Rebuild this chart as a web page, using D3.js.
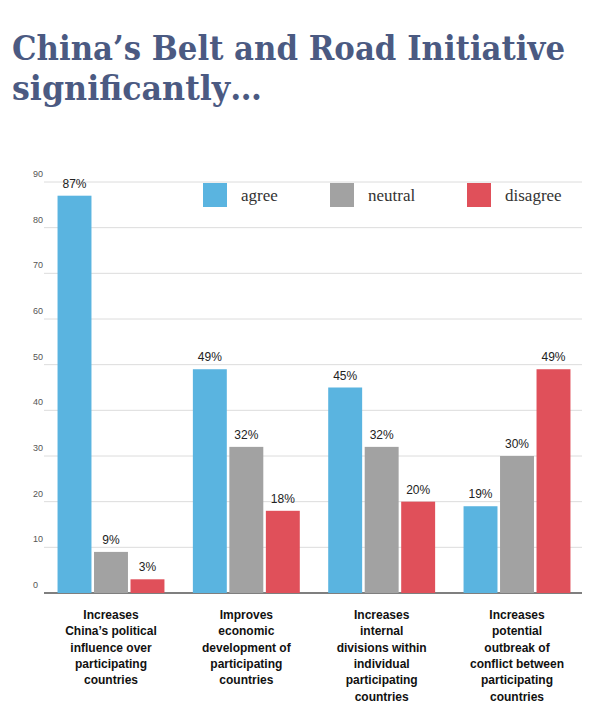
<!DOCTYPE html><html><head><meta charset="utf-8">
<script src="https://cdn.jsdelivr.net/npm/d3@7"></script>
<style>body{margin:0;background:#fff}</style></head><body>
<svg id="c" width="596" height="719"></svg>
<script>
const categories=[["Increases","China’s political","influence over","participating","countries"],["Improves","economic","development of","participating","countries"],["Increases","internal","divisions within","individual","participating","countries"],["Increases","potential","outbreak of","conflict between","participating","countries"]];
const series=["agree","neutral","disagree"];
const agree=[87,49,45,19], neutral=[9,32,32,30], disagree=[3,18,20,49];
const ticks=[0,10,20,30,40,50,60,70,80,90];
const colors={agree:"#5ab4e0",neutral:"#a2a2a2",disagree:"#e0505a"};
const vals={agree,neutral,disagree};
const svg=d3.select("#c");
svg.append("text").attr("x",12).attr("y",60).attr("font-family","DejaVu Serif").attr("font-weight","bold").attr("font-size",33).attr("fill","#4b5a82").attr("textLength",553).attr("lengthAdjust","spacingAndGlyphs").text("China’s Belt and Road Initiative");
svg.append("text").attr("x",12).attr("y",100).attr("font-family","DejaVu Serif").attr("font-weight","bold").attr("font-size",33).attr("fill","#4b5a82").attr("textLength",250).attr("lengthAdjust","spacingAndGlyphs").text("significantly…");
const y=d3.scaleLinear().domain([0,90]).range([593,182]);
const x0=d3.scaleBand().domain(d3.range(4)).range([44,584]).paddingInner(0.21).paddingOuter(0.1);
const x1=d3.scaleBand().domain(series).range([0,x0.bandwidth()]).paddingInner(0.07);
const g=svg.append("g");
ticks.forEach(t=>{
 g.append("line").attr("x1",44).attr("x2",582).attr("y1",y(t)).attr("y2",y(t)).attr("stroke",t?"#dcdcdc":"#555").attr("stroke-width",t?1:1.5);
 g.append("text").attr("x",33).attr("y",y(t)-5).attr("font-family","Liberation Sans").attr("font-size",9).attr("fill","#555").text(t);
});
categories.forEach((c,i)=>{
 series.forEach(s=>{
  const v=vals[s][i], bx=x0(i)+x1(s);
  g.append("rect").attr("x",bx).attr("y",y(v)).attr("width",x1.bandwidth()).attr("height",y(0)-y(v)).attr("fill",colors[s]);
  g.append("text").attr("x",bx+x1.bandwidth()/2).attr("y",y(v)-8).attr("text-anchor","middle").attr("font-family","Liberation Sans").attr("font-size",12).attr("fill","#222").text(v+"%");
 });
 c.forEach((l,j)=>g.append("text").attr("x",x0(i)+x0.bandwidth()/2).attr("y",619+j*16.3).attr("text-anchor","middle").attr("font-family","Liberation Sans").attr("font-weight","bold").attr("font-size",12).attr("fill","#111").text(l));
});
const lx=[203,330,467];
series.forEach((s,i)=>{
 svg.append("rect").attr("x",lx[i]).attr("y",183).attr("width",24).attr("height",24).attr("fill",colors[s]);
 svg.append("text").attr("x",lx[i]+38).attr("y",201).attr("font-family","Liberation Serif").attr("font-size",17).attr("fill","#333").text(s);
});
</script></body></html>
